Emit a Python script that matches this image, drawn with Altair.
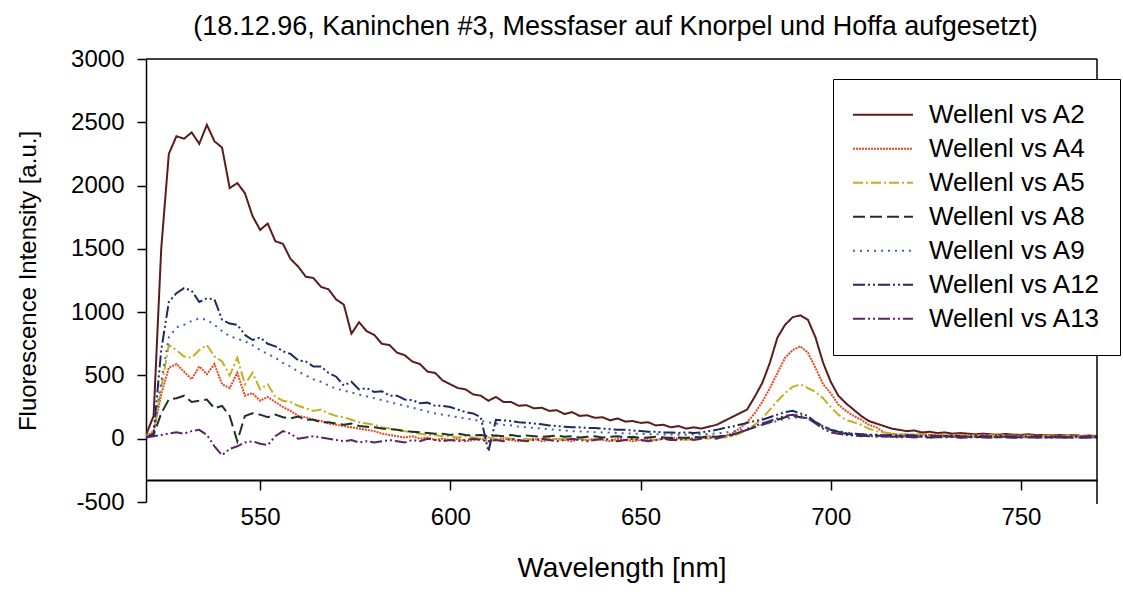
import altair as alt
import pandas as pd

wavelength = list(range(520, 771, 2))

series_names = ["Wellenl vs A2", "Wellenl vs A4", "Wellenl vs A5", "Wellenl vs A8",
                "Wellenl vs A9", "Wellenl vs A12", "Wellenl vs A13"]

a2 = [30, 180, 1500, 2250, 2390, 2370, 2420, 2330, 2480, 2350,
      2300, 1980, 2020, 1940, 1760, 1650, 1700, 1560, 1540, 1420,
      1360, 1280, 1270, 1200, 1180, 1100, 1060, 830, 920, 850,
      820, 750, 740, 680, 660, 610, 590, 530, 520, 460,
      430, 400, 390, 350, 340, 300, 330, 290, 290, 260,
      265, 240, 245, 220, 225, 195, 210, 180, 185, 165,
      170, 145, 160, 135, 140, 125, 130, 105, 110, 90,
      100, 80, 90, 80, 95, 110, 140, 170, 200, 230,
      330, 440, 600, 800, 900, 960, 975, 940, 800, 600,
      450, 340, 280, 230, 180, 140, 120, 100, 80, 70,
      60, 65, 50, 55, 45, 50, 40, 45, 40, 35,
      40, 35, 30, 38, 32, 30, 35, 28, 30, 25,
      30, 25, 28, 22, 25, 20]

a4 = [20, 60, 350, 560, 590, 530, 470, 570, 510, 590,
      430, 400, 520, 340, 360, 300, 330, 290, 250, 220,
      180, 170, 150, 140, 120, 110, 100, 90, 80, 70,
      60, 40, 30, 20, 10, 20, 0, 10, -10, 0,
      -10, 0, -20, -10, 0, -20, -10, 0, -10, -20,
      -10, 0, -20, -10, 0, -10, -20, 0, -10, 0,
      -10, -20, 0, -10, -20, -10, 0, -10, 0, 10,
      0, 10, 0, 10, 20, 10, 20, 40, 80, 130,
      200, 290, 400, 520, 640, 700, 730, 680, 560, 430,
      360, 270, 220, 180, 150, 110, 90, 50, 40, 30,
      35, 30, 40, 30, 35, 25, 30, 35, 25, 30,
      30, 25, 35, 28, 30, 25, 28, 22, 25, 30,
      25, 22, 28, 20, 25, 22]

a5 = [20, 50, 400, 740, 700, 650, 640, 700, 740, 650,
      610, 500, 640, 430, 520, 390, 430, 330, 300, 290,
      260, 240, 220, 230, 200, 180, 170, 150, 130, 120,
      110, 90, 80, 70, 60, 50, 40, 30, 30, 20,
      20, 10, 20, 10, 0, 10, 0, 10, 0, -10,
      0, -10, 0, 10, -10, 0, -10, 0, -10, 0,
      -10, 0, -20, -10, 0, -10, -20, -10, 0, -10,
      0, -10, 0, 10, 0, 10, 10, 20, 40, 70,
      110, 160, 230, 300, 360, 410, 430, 400, 370, 320,
      250, 190, 150, 130, 110, 80, 60, 50, 40, 35,
      30, 35, 28, 30, 25, 30, 28, 25, 30, 22,
      25, 28, 22, 25, 20, 25, 22, 20, 25, 18,
      20, 22, 18, 20, 15, 18]

a8 = [10, 30, 200, 310, 320, 340, 290, 300, 310, 240,
      260, 180, -20, 180, 200, 190, 170, 190, 170, 160,
      175, 150, 150, 130, 130, 120, 110, 120, 100, 95,
      90, 80, 75, 70, 60, 55, 50, 45, 40, 40,
      30, 40, 30, 25, 30, 20, 25, 20, 30, 20,
      25, 20, 15, 20, 25, 15, 20, 10, 15, 20,
      10, 15, 20, 10, 15, 5, 10, 15, 10, 5,
      10, 5, 15, 10, 20, 15, 25, 30, 50, 70,
      90, 110, 130, 150, 170, 180, 170, 160, 130, 100,
      70, 50, 40, 30, 25, 20, 25, 20, 15, 20,
      15, 20, 15, 10, 15, 20, 15, 10, 15, 10,
      15, 10, 12, 15, 10, 12, 10, 15, 10, 12,
      10, 12, 8, 10, 12, 10]

a9 = [10, 40, 450, 800, 880, 900, 930, 950, 940, 900,
      850, 810, 790, 770, 740, 700, 670, 640, 600, 570,
      530, 500, 470, 450, 420, 395, 380, 365, 350, 335,
      320, 305, 290, 275, 260, 245, 230, 215, 200, 190,
      180, 170, 160, 150, 140, 130, 120, 110, 105, 95,
      90, 85, 80, 75, 70, 65, 60, 58, 55, 52,
      50, 48, 45, 42, 40, 38, 36, 35, 34, 33,
      32, 32, 33, 35, 38, 42, 48, 55, 65, 80,
      95, 110, 125, 140, 155, 165, 170, 160, 130, 100,
      75, 60, 50, 40, 35, 30, 28, 25, 22, 20,
      20, 18, 18, 17, 16, 16, 15, 15, 15, 14,
      14, 14, 13, 13, 13, 12, 12, 12, 12, 11,
      11, 11, 10, 10, 10, 10]

a12 = [10, 40, 700, 1080, 1150, 1190, 1170, 1080, 1110, 1100,
       940, 910, 900, 820, 780, 800, 750, 730, 690, 670,
       620, 610, 570, 570, 520, 490, 420, 450, 390, 400,
       370, 375, 340, 340, 310, 305, 280, 285, 260, 260,
       250, 230, 210, 200, 170, -100, 150, 145, 140, 130,
       125, 120, 115, 105, 100, 95, 90, 90, 85, 85,
       80, 75, 70, 70, 65, 60, 55, 55, 50, 50,
       45, 50, 45, 50, 60, 70, 85, 95, 110, 125,
       140, 150, 170, 190, 210, 220, 200, 180, 130, 90,
       70, 55, 45, 40, 35, 30, 32, 28, 30, 25,
       28, 25, 22, 25, 20, 22, 25, 20, 18, 22,
       20, 18, 22, 20, 18, 20, 15, 18, 20, 15,
       18, 15, 20, 15, 18, 15]

a13 = [10, 20, 30, 40, 50, 40, 60, 70, 30, -60,
       -130, -80, -60, -30, -20, -40, -50, 20, 60, 40,
       0, 10, 20, 10, 0, -10, -20, -10, -30, -20,
       -30, -20, -10, -20, -30, -10, -20, 0, -10, -20,
       -10, -20, -10, 0, -10, -20, -10, -20, 0, -10,
       -20, -10, 0, -10, -20, -10, 0, -10, -20, -10,
       0, -10, -20, -10, 0, -10, -20, -10, 0, -10,
       -10, 0, -10, 0, 10, 0, 20, 30, 50, 70,
       100, 120, 140, 160, 180, 190, 180, 160, 120, 80,
       50, 40, 30, 25, 20, 25, 15, 20, 15, 10,
       15, 10, 15, 10, 12, 10, 15, 8, 10, 12,
       10, 8, 12, 10, 8, 10, 12, 8, 10, 8,
       10, 8, 12, 8, 10, 8]

series_values = [a2, a4, a5, a8, a9, a12, a13]

x_ticks = [550, 600, 650, 700, 750]
y_ticks = [-500, 0, 500, 1000, 1500, 2000, 2500, 3000]

colors = ["#5a1c1c", "#e8461e", "#c2b01e", "#1c3324", "#3f62b4", "#1e2a62", "#5c2466"]
dashes = [[1, 0], [2, 1], [10, 3, 2, 3], [12, 5], [2, 5], [12, 3, 2, 3, 2, 3], [12, 3, 2, 3, 2, 3]]

rows = []
for name, vals in zip(series_names, series_values):
    for w, v in zip(wavelength, vals):
        rows.append({"wavelength": w, "value": v, "series": name})
df = pd.DataFrame(rows)

W, H = 951, 443
FONT = "Liberation Sans"

legend = alt.Legend(
    title=None, orient="none", legendX=687, legendY=20,
    symbolType="stroke", symbolSize=3600, symbolStrokeWidth=2,
    labelFont=FONT, labelFontSize=26, labelColor="black", labelOffset=15,
    labelLimit=400, clipHeight=33.5, rowPadding=0, padding=19,
    strokeColor="black", fillColor="white", cornerRadius=0,
)

lines = alt.Chart(df).mark_line(strokeWidth=2, clip=True).encode(
    x=alt.X("wavelength:Q",
            scale=alt.Scale(domain=[520, 770], nice=False, zero=False),
            axis=alt.Axis(values=x_ticks, title="Wavelength [nm]", offset=-22,
                          grid=False, labelExpr="'' + datum.value",
                          tickSize=10, labelPadding=15, labelFontSize=24,
                          labelFont=FONT, titleFont=FONT, titleFontWeight="normal",
                          labelColor="black", titleColor="black",
                          domainColor="black", tickColor="black",
                          titleFontSize=28, titleY=96, titleBaseline="alphabetic",
                          domainWidth=1.8, tickWidth=1.5)),
    y=alt.Y("value:Q",
            scale=alt.Scale(domain=[-500, 3000], nice=False, zero=False),
            axis=alt.Axis(values=y_ticks, title="Fluorescence Intensity [a.u.]",
                          grid=False, labelExpr="'' + datum.value",
                          tickSize=9, labelPadding=13, labelFontSize=24,
                          labelFont=FONT, titleFont=FONT, titleFontWeight="normal",
                          labelColor="black", titleColor="black",
                          domainColor="black", tickColor="black",
                          titleFontSize=24, titleX=-118, titleY=221.5,
                          titleAngle=270, titleAlign="center", titleBaseline="middle",
                          domainWidth=1.5, tickWidth=1.5)),
    color=alt.Color("series:N", sort=series_names,
                    scale=alt.Scale(domain=series_names, range=colors), legend=legend),
    strokeDash=alt.StrokeDash("series:N", sort=series_names,
                              scale=alt.Scale(domain=series_names, range=dashes), legend=legend),
)

frame_df = pd.DataFrame({"k": [0]})
top_line = alt.Chart(frame_df).mark_rule(color="black", strokeWidth=1.5).encode(
    x=alt.value(0), x2=alt.value(W), y=alt.value(0))
right_line = alt.Chart(frame_df).mark_rule(color="black", strokeWidth=1.5).encode(
    x=alt.value(W), y=alt.value(0), y2=alt.value(H + 2))

chart = alt.layer(lines, top_line, right_line).properties(
    width=W, height=H,
    padding={"left": 146, "top": 59, "right": 26, "bottom": 92},
    autosize=alt.AutoSizeParams(type="none"),
    title=alt.TitleParams(
        text="(18.12.96, Kaninchen #3, Messfaser auf Knorpel und Hoffa aufgesetzt)",
        font=FONT, fontSize=27, fontWeight="normal", color="black",
        anchor="middle", frame="group", offset=17, baseline="alphabetic",
        dy=32, dx=-6),
).configure_view(strokeWidth=0)

chart.save("out.html", embed_options={"renderer": "svg", "actions": False})
